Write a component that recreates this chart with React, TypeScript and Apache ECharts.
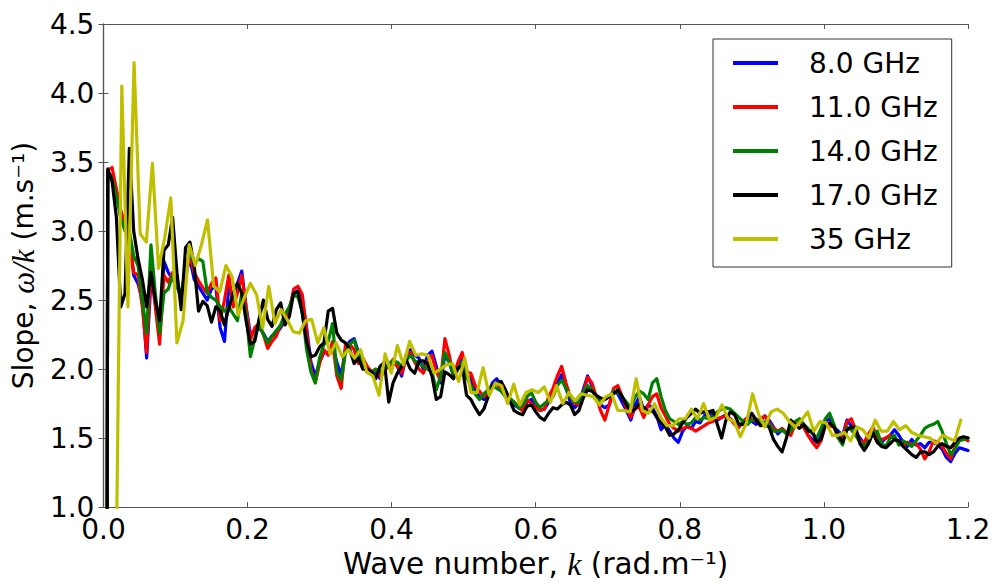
import React, { useEffect, useRef } from "react";
import * as echarts from "echarts";

// wave-number grids (rad/m): start 0, fixed step
const K_STEP = 0.006; // 8, 11, 14, 17 GHz series
const K_STEP_35 = 0.0085; // 35 GHz series

const X_TICKS = [0, 0.2, 0.4, 0.6, 0.8, 1.0, 1.2];
const Y_TICKS = [1.0, 1.5, 2.0, 2.5, 3.0, 3.5, 4.0, 4.5];

const SERIES_NAMES = ["8.0 GHz", "11.0 GHz", "14.0 GHz", "17.0 GHz", "35 GHz"];

const slope8 = [
  -15, 3.42, 3.40, 3.30, 3.10, 3.02, 2.95, 2.68, 2.62, 2.50,
  2.08, 2.65, 2.50, 2.25, 2.78, 2.70, 2.65, 2.60, 2.52, 2.68,
  2.80, 2.65, 2.60, 2.55, 2.50, 2.58, 2.60, 2.30, 2.20, 2.60,
  2.50, 2.62, 2.71, 2.45, 2.25, 2.28, 2.30, 2.26, 2.20, 2.24,
  2.26, 2.30, 2.36, 2.44, 2.55, 2.57, 2.50, 2.30, 2.05, 1.95,
  2.05, 2.12, 2.12, 2.16, 2.05, 1.95, 2.15, 2.20, 2.22, 2.12,
  2.05, 2.00, 1.96, 1.98, 1.93, 2.00, 2.02, 2.05, 2.02, 1.95,
  2.10, 2.14, 2.10, 2.08, 2.00, 2.10, 2.13, 2.02, 1.90, 2.10,
  2.05, 1.95, 2.00, 2.08, 1.96, 1.93, 1.84, 1.80, 1.78, 1.82,
  1.90, 1.93, 1.88, 1.84, 1.78, 1.74, 1.72, 1.70, 1.76, 1.78,
  1.74, 1.70, 1.71, 1.76, 1.82, 1.90, 1.96, 1.86, 1.76, 1.72,
  1.75, 1.85, 1.95, 1.88, 1.80, 1.74, 1.72, 1.74, 1.84, 1.82,
  1.76, 1.70, 1.63, 1.74, 1.80, 1.70, 1.74, 1.72, 1.66, 1.56,
  1.60, 1.55, 1.50, 1.47, 1.55, 1.59, 1.57, 1.62, 1.61, 1.66,
  1.69, 1.66, 1.63, 1.65, 1.67, 1.64, 1.61, 1.58, 1.62, 1.65,
  1.62, 1.60, 1.63, 1.66, 1.63, 1.58, 1.53, 1.56, 1.54, 1.56,
  1.61, 1.63, 1.58, 1.52, 1.49, 1.47, 1.55, 1.62, 1.64, 1.58,
  1.55, 1.52, 1.63, 1.59, 1.55, 1.50, 1.46, 1.50, 1.53, 1.49,
  1.47, 1.50, 1.52, 1.56, 1.52, 1.47, 1.44, 1.49, 1.45, 1.46,
  1.43, 1.47, 1.47, 1.45, 1.42, 1.36, 1.33, 1.39, 1.43, 1.42,
  1.41,
];

const slope11 = [
  -15, 3.44, 3.46, 3.30, 3.15, 3.05, 2.95, 2.70, 2.68, 2.45,
  2.12, 2.73, 2.45, 2.18, 2.68, 2.63, 2.70, 2.62, 2.54, 2.70,
  2.82, 2.70, 2.64, 2.59, 2.55, 2.62, 2.66, 2.35, 2.50, 2.68,
  2.45, 2.55, 2.68, 2.45, 2.21, 2.30, 2.33, 2.25, 2.15, 2.20,
  2.24, 2.32, 2.38, 2.42, 2.58, 2.60, 2.54, 2.28, 2.00, 1.90,
  2.04, 2.14, 2.10, 2.20, 1.95, 1.86, 2.18, 2.18, 2.14, 2.04,
  2.08, 2.02, 1.98, 2.00, 1.95, 1.99, 2.02, 2.07, 2.02, 1.97,
  2.08, 2.12, 2.05, 2.00, 1.97, 2.05, 2.10, 1.98, 1.92, 2.22,
  2.10, 1.94, 2.05, 2.12, 1.98, 1.97, 1.88, 1.84, 1.80, 1.82,
  1.88, 1.90, 1.85, 1.80, 1.78, 1.76, 1.73, 1.70, 1.78, 1.75,
  1.72, 1.70, 1.71, 1.80, 1.86, 1.95, 2.02, 1.90, 1.80, 1.75,
  1.74, 1.82, 1.94, 1.90, 1.80, 1.70, 1.63, 1.74, 1.86, 1.88,
  1.80, 1.72, 1.65, 1.72, 1.72, 1.65, 1.74, 1.80, 1.82, 1.72,
  1.66, 1.60, 1.57, 1.55, 1.57, 1.58, 1.57, 1.55, 1.57, 1.59,
  1.61, 1.62, 1.64, 1.65, 1.66, 1.64, 1.60, 1.58, 1.62, 1.65,
  1.64, 1.62, 1.64, 1.66, 1.61, 1.57, 1.55, 1.57, 1.54, 1.52,
  1.60, 1.62, 1.58, 1.52, 1.47, 1.43, 1.48, 1.60, 1.59, 1.58,
  1.50, 1.50, 1.62, 1.64, 1.56, 1.48, 1.47, 1.53, 1.58, 1.50,
  1.49, 1.50, 1.52, 1.49, 1.47, 1.44, 1.47, 1.45, 1.46, 1.42,
  1.35, 1.40, 1.48, 1.47, 1.44, 1.39, 1.35, 1.44, 1.49, 1.50,
  1.48,
];

const slope14 = [
  -15, 3.40, 3.38, 3.25, 3.10, 3.00, 3.00, 2.82, 2.75, 2.50,
  2.26, 2.90, 2.55, 2.26, 2.55, 2.58, 2.68, 2.60, 2.54, 2.74,
  2.84, 2.76, 2.80, 2.78, 2.56, 2.52, 2.50, 2.45, 2.42, 2.45,
  2.40, 2.35, 2.55, 2.40, 2.09, 2.22, 2.33, 2.25, 2.19, 2.24,
  2.28, 2.32, 2.40, 2.45, 2.54, 2.52, 2.42, 2.14, 1.98, 1.90,
  2.08, 2.18, 2.20, 2.33, 1.98, 1.92, 2.12, 2.18, 2.21, 2.10,
  2.02, 1.98, 1.96, 2.00, 1.98, 1.99, 2.04, 2.06, 2.05, 2.02,
  2.06, 2.10, 2.06, 2.04, 2.02, 2.00, 1.98, 1.85, 1.95, 2.12,
  2.05, 1.96, 2.00, 2.05, 1.94, 1.88, 1.82, 1.78, 1.82, 1.85,
  1.88, 1.86, 1.84, 1.80, 1.79, 1.76, 1.72, 1.74, 1.80, 1.83,
  1.76, 1.72, 1.75, 1.77, 1.80, 1.88, 1.92, 1.86, 1.80, 1.76,
  1.76, 1.83, 1.88, 1.85, 1.80, 1.76, 1.78, 1.80, 1.84, 1.83,
  1.80, 1.76, 1.72, 1.80, 1.84, 1.82, 1.78, 1.90, 1.93, 1.80,
  1.70, 1.64, 1.62, 1.60, 1.62, 1.60, 1.61, 1.65, 1.63, 1.65,
  1.64, 1.66, 1.69, 1.71, 1.72, 1.71, 1.68, 1.65, 1.62, 1.60,
  1.63, 1.64, 1.60, 1.62, 1.60, 1.55, 1.55, 1.56, 1.53, 1.55,
  1.62, 1.64, 1.60, 1.57, 1.53, 1.50, 1.57, 1.64, 1.68, 1.60,
  1.50, 1.45, 1.58, 1.56, 1.52, 1.47, 1.44, 1.48, 1.53, 1.55,
  1.46, 1.44, 1.50, 1.52, 1.45, 1.48, 1.46, 1.44, 1.48, 1.52,
  1.57, 1.59, 1.60, 1.62, 1.55, 1.46, 1.38, 1.42, 1.48, 1.49,
  1.50,
];

const slope17 = [
  -15, 3.45, 3.36, 3.10, 2.45, 2.55, 3.60, 3.00, 2.80, 2.65,
  2.45, 2.70, 2.50, 2.35, 2.86, 2.90, 3.10, 2.70, 2.43, 2.88,
  2.92, 2.75, 2.42, 2.49, 2.46, 2.34, 2.45, 2.42, 2.32, 2.44,
  2.55, 2.62, 2.55, 2.35, 2.18, 2.20, 2.36, 2.50, 2.36, 2.31,
  2.43, 2.48, 2.32, 2.38, 2.55, 2.56, 2.40, 2.20, 2.09, 2.10,
  2.16, 2.19, 2.42, 2.44, 2.26, 2.21, 2.19, 2.14, 2.04, 2.08,
  2.00, 2.00, 1.98, 1.93, 2.02, 2.05, 1.76, 1.90, 1.97, 2.02,
  2.07, 2.00, 1.97, 2.06, 2.06, 2.04, 1.95, 1.78, 1.80, 1.98,
  1.96, 1.93, 2.01, 2.02, 1.81, 1.78, 1.72, 1.67, 1.71, 1.80,
  1.88, 1.90, 1.91, 1.85, 1.77, 1.70, 1.68, 1.67, 1.73, 1.74,
  1.69, 1.65, 1.63, 1.68, 1.72, 1.71, 1.74, 1.76, 1.74, 1.67,
  1.70, 1.79, 1.85, 1.84, 1.81, 1.79, 1.78, 1.80, 1.82, 1.85,
  1.80, 1.74, 1.69, 1.71, 1.75, 1.72, 1.69, 1.70, 1.65, 1.61,
  1.58, 1.52, 1.53, 1.56, 1.61, 1.65, 1.68, 1.71, 1.68, 1.69,
  1.69, 1.70, 1.60, 1.50, 1.63, 1.69, 1.67, 1.60, 1.60, 1.63,
  1.68, 1.63, 1.59, 1.60, 1.58, 1.49, 1.44, 1.40, 1.50, 1.63,
  1.60, 1.57, 1.60, 1.55, 1.55, 1.47, 1.49, 1.59, 1.61, 1.58,
  1.52, 1.47, 1.56, 1.58, 1.58, 1.46, 1.41, 1.46, 1.54, 1.47,
  1.44, 1.43, 1.46, 1.49, 1.48, 1.44, 1.41, 1.38, 1.36, 1.40,
  1.40, 1.38, 1.40, 1.44, 1.46, 1.44, 1.43, 1.47, 1.50, 1.51,
  1.50,
];

const slope35 = [
  0.1, 0.2, 0.26, 4.05, 2.45, 4.22, 2.98, 2.92, 3.49, 2.73,
  2.95, 3.24, 2.19, 2.35, 2.90, 2.75, 2.90, 3.08, 2.60, 2.56,
  2.75, 2.67, 2.39, 2.52, 2.62, 2.54, 2.30, 2.60, 2.33, 2.43,
  2.36, 2.27, 2.26, 2.35, 2.36, 2.19, 2.30, 2.11, 2.19, 2.09,
  2.14, 2.08, 2.14, 1.98, 1.95, 1.81, 2.11, 1.97, 2.17, 2.03,
  2.20, 2.10, 2.11, 2.10, 1.97, 2.00, 2.03, 2.04, 1.91, 2.08,
  1.83, 1.83, 2.01, 1.81, 1.90, 1.88, 1.75, 1.89, 1.74, 1.83,
  1.85, 1.83, 1.87, 1.76, 1.88, 1.75, 1.83, 1.77, 1.82, 1.81,
  1.80, 1.74, 1.80, 1.82, 1.70, 1.70, 1.69, 1.93, 1.70, 1.68,
  1.75, 1.65, 1.59, 1.59, 1.64, 1.64, 1.71, 1.64, 1.75, 1.63,
  1.65, 1.74, 1.64, 1.62, 1.51, 1.61, 1.82, 1.67, 1.58, 1.69,
  1.71, 1.68, 1.62, 1.58, 1.63, 1.69, 1.55, 1.62, 1.61, 1.52,
  1.52, 1.54, 1.48, 1.58, 1.56, 1.50, 1.63, 1.55, 1.55, 1.62,
  1.56, 1.59, 1.54, 1.52, 1.51, 1.50, 1.46, 1.52, 1.50, 1.48,
  1.63,
];

const COLORS = ["#0000ff", "#ff0000", "#008000", "#000000", "#bfbf00"];

const toPairs = (vals: number[], step: number) =>
  vals.map((v, i) => [Number((i * step).toFixed(5)), v]);

const FONT = "DejaVu Sans";
const AXIS_COLOR = "#555";

export default function App() {
  const ref = useRef<HTMLDivElement>(null);

  useEffect(() => {
    if (!ref.current) return;
    const chart = echarts.init(ref.current, null, { renderer: "svg" });
    const seriesData = [
      toPairs(slope8, K_STEP),
      toPairs(slope11, K_STEP),
      toPairs(slope14, K_STEP),
      toPairs(slope17, K_STEP),
      toPairs(slope35, K_STEP_35),
    ];
    const xMin = X_TICKS[0];
    const xMax = X_TICKS[X_TICKS.length - 1];
    const xInt = X_TICKS[1] - X_TICKS[0];
    const yMin = Y_TICKS[0];
    const yMax = Y_TICKS[Y_TICKS.length - 1];
    const yInt = Y_TICKS[1] - Y_TICKS[0];

    const tickStyle = { inside: true, length: 5, lineStyle: { color: AXIS_COLOR, width: 1 } };
    const lineStyle = { lineStyle: { color: AXIS_COLOR, width: 1.2 } };

    chart.setOption({
      animation: false,
      backgroundColor: "#ffffff",
      textStyle: { fontFamily: FONT },
      grid: { left: 97, right: 38, top: 24, bottom: 69, containLabel: false },
      legend: {
        data: SERIES_NAMES,
        orient: "vertical",
        left: 713,
        top: 39,
        padding: [10, 14, 14, 20],
        itemWidth: 45,
        itemHeight: 4,
        itemGap: 16,
        icon: "rect",
        borderColor: "#333",
        borderWidth: 1,
        backgroundColor: "#fff",
        textStyle: {
          fontFamily: FONT,
          fontSize: 28,
          color: "#000",
          lineHeight: 28,
          padding: [0, 0, 0, 26],
        },
      },
      xAxis: [
        {
          type: "value",
          min: xMin,
          max: xMax,
          interval: xInt,
          position: "bottom",
          name: "Wave number, {i|k} (rad.m⁻¹)",
          nameLocation: "middle",
          nameGap: 38,
          nameTextStyle: {
            fontFamily: FONT,
            fontSize: 29.5,
            color: "#000",
            rich: {
              i: { fontFamily: "Liberation Serif", fontStyle: "italic", fontSize: 32, color: "#000" },
            },
          },
          axisLine: { show: true, ...lineStyle },
          axisTick: tickStyle,
          splitLine: { show: false },
          axisLabel: {
            fontFamily: FONT,
            fontSize: 28,
            color: "#000",
            margin: 8,
            formatter: (v: number) => v.toFixed(1),
          },
        },
        {
          type: "value",
          min: xMin,
          max: xMax,
          interval: xInt,
          position: "top",
          axisLine: { show: true, ...lineStyle },
          axisTick: tickStyle,
          axisLabel: { show: false },
          splitLine: { show: false },
        },
      ],
      yAxis: [
        {
          type: "value",
          min: yMin,
          max: yMax,
          interval: yInt,
          position: "left",
          name: "Slope, {i|ω/k} (m.s⁻¹)",
          nameLocation: "middle",
          nameRotate: 90,
          nameGap: 51,
          nameTextStyle: {
            fontFamily: FONT,
            fontSize: 28,
            color: "#000",
            rich: {
              i: { fontFamily: "Liberation Serif", fontStyle: "italic", fontSize: 31, color: "#000" },
            },
          },
          axisLine: { show: true, ...lineStyle },
          axisTick: tickStyle,
          splitLine: { show: false },
          axisLabel: {
            fontFamily: FONT,
            fontSize: 28,
            color: "#000",
            margin: 9,
            formatter: (v: number) => v.toFixed(1),
          },
        },
        {
          type: "value",
          min: yMin,
          max: yMax,
          interval: yInt,
          position: "right",
          axisLine: { show: true, ...lineStyle },
          axisTick: tickStyle,
          axisLabel: { show: false },
          splitLine: { show: false },
        },
      ],
      series: SERIES_NAMES.map((name, idx) => ({
        name,
        type: "line",
        data: seriesData[idx],
        xAxisIndex: 0,
        yAxisIndex: 0,
        showSymbol: false,
        symbol: "none",
        clip: true,
        color: COLORS[idx],
        lineStyle: { color: COLORS[idx], width: 3.2, join: "round", cap: "round" },
        z: 2 + idx,
      })),
    });
    return () => chart.dispose();
  }, []);

  return (
    <div
      ref={ref}
      style={{ position: "absolute", left: 0, top: 0, width: 1006, height: 585, background: "#fff" }}
    />
  );
}
